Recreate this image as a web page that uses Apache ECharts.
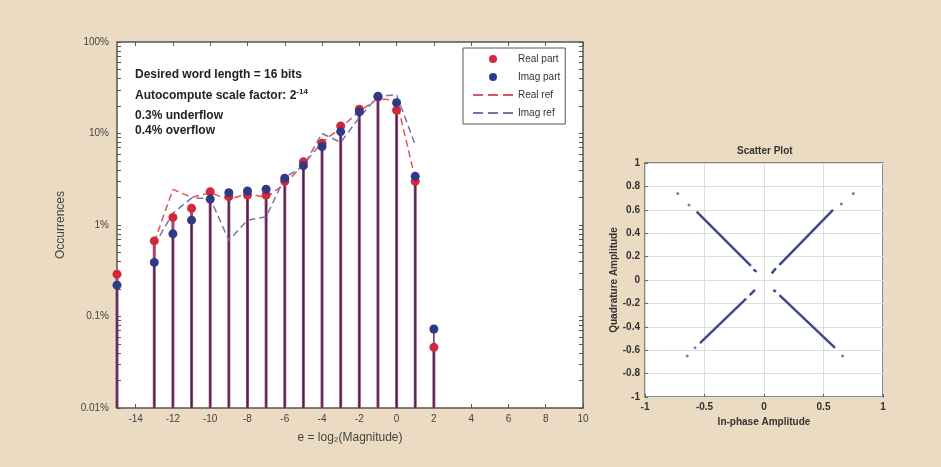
<!DOCTYPE html>
<html>
<head>
<meta charset="utf-8">
<script src="https://cdn.jsdelivr.net/npm/echarts@6/dist/echarts.min.js"></script>
<style>
  html, body { margin: 0; padding: 0; background: #eadbc2; }
  #chart { width: 941px; height: 467px; }
</style>
</head>
<body>
<div id="chart"></div>
<script>
// exponent bins (x) and percent of occurrences
const exps = [-15, -13, -12, -11, -10, -9, -8, -7, -6, -5, -4, -3, -2, -1, 0, 1, 2]
const realPart = [0.29, 0.67, 1.21, 1.52, 2.31, 2.04, 2.13, 2.13, 3.0, 4.9, 7.8, 12.1, 18.4, 25, 18, 3.0, 0.046]
const imagPart = [0.22, 0.39, 0.8, 1.13, 1.92, 2.25, 2.35, 2.46, 3.24, 4.45, 7.2, 10.5, 17.3, 25.5, 21.7, 3.4, 0.073]

// reference curves
const refExps = [-13, -12, -11, -10, -9, -8, -7, -6, -5, -4, -3, -2, -1, 0, 1]
const realRef = [0.65, 2.45, 2.0, 2.25, 1.9, 2.2, 2.0, 2.8, 4.6, 8.0, 11.5, 17.5, 24, 23, 3.2]
const imagRef = [0.6, 1.35, 1.97, 1.95, 0.68, 1.13, 1.23, 3.3, 4.4, 10, 8.0, 15, 25.5, 26.5, 7.5]

// axis ticks
const xTicks = [-14, -12, -10, -8, -6, -4, -2, 0, 2, 4, 6, 8, 10]
const yDecades = [0.01, 0.1, 1, 10, 100]
const yMinorSteps = [1, 2, 3, 4, 5, 6, 7, 8, 9]

// scatter plot: dense arms (start/end of each run) and stray points
const armUpLeft = [[-0.566, 0.584], [-0.11, 0.12], null, [-0.09, 0.09], [-0.061, 0.071]]
const armUpRight = [[0.065, 0.057], [0.1, 0.1], null, [0.13, 0.13], [0.58, 0.6]]
const armLowLeft = [[-0.076, -0.085], [-0.12, -0.13], null, [-0.15, -0.16], [-0.538, -0.54]]
const armLowRight = [[0.078, -0.085], [0.1, -0.1], null, [0.13, -0.13], [0.597, -0.58]]
const strayPoints = [[-0.725, 0.74], [-0.63, 0.64], [0.75, 0.74], [0.65, 0.65],
  [-0.58, -0.58], [-0.645, -0.65], [0.66, -0.65]]

const yTicks = []
yDecades.slice(0, 4).forEach(d => yMinorSteps.forEach(m => yTicks.push(+(d * m).toPrecision(3))))
yTicks.push(100)

const FONT = 'Liberation Sans'
const DASH_ICON = 'path://M0,0h10v2h-10z M15,0h10v2h-10z M30,0h10v2h-10z'

function stem(color, width) {
  return function (params, api) {
    const x = api.value(0)
    const top = api.coord([x, api.value(1)])
    const bot = api.coord([x, 0.01])
    return {
      type: 'line',
      shape: {x1: top[0], y1: top[1], x2: bot[0], y2: bot[1]},
      style: {stroke: color, lineWidth: width}
    }
  }
}

const zip = (xs, ys) => xs.map((x, i) => [x, ys[i]])
const noLine = {show: false, onZero: false}

const option = {
  backgroundColor: '#eadbc2',
  animation: false,
  textStyle: {fontFamily: FONT},
  grid: [
    {left: 117, top: 42, width: 466, height: 366, show: true, backgroundColor: '#fff', borderColor: '#555', borderWidth: 1.5},
    {left: 645, top: 163, width: 238, height: 234, show: true, backgroundColor: '#fff', borderColor: '#666', borderWidth: 1.5}
  ],
  legend: {
    left: 463, top: 48, orient: 'vertical',
    backgroundColor: '#fff', borderColor: '#555', borderWidth: 1,
    padding: [6, 5, 6, 10], itemGap: 8, itemWidth: 40, itemHeight: 8,
    textStyle: {fontFamily: FONT, fontSize: 10, color: '#333'},
    data: [
      {name: 'Real part', icon: 'circle'},
      {name: 'Imag part', icon: 'circle'},
      {name: 'Real ref', icon: DASH_ICON},
      {name: 'Imag ref', icon: DASH_ICON}
    ]
  },
  xAxis: [
    {
      type: 'value', gridIndex: 0, min: -15, max: 10,
      name: 'e = log\u2082(Magnitude)', nameLocation: 'middle', nameGap: 24,
      nameTextStyle: {fontFamily: FONT, fontSize: 12, color: '#444'},
      axisLine: noLine, splitLine: {show: false},
      axisTick: {inside: true, length: 4, customValues: xTicks, lineStyle: {color: '#555'}},
      axisLabel: {customValues: xTicks, fontSize: 10, color: '#444', margin: 6}
    },
    {
      type: 'value', gridIndex: 0, position: 'top', min: -15, max: 10,
      axisLine: noLine, splitLine: {show: false}, axisLabel: {show: false},
      axisTick: {inside: true, length: 4, customValues: xTicks, lineStyle: {color: '#555'}}
    },
    {
      type: 'value', gridIndex: 1, min: -1, max: 1, interval: 0.5,
      name: 'In-phase Amplitude', nameLocation: 'middle', nameGap: 17,
      nameTextStyle: {fontFamily: FONT, fontSize: 10, fontWeight: 'bold', color: '#333'},
      axisLine: noLine,
      splitLine: {show: true, lineStyle: {color: '#dcdcdc', width: 1}},
      axisTick: {inside: true, length: 3, lineStyle: {color: '#666'}},
      axisLabel: {fontSize: 10, fontWeight: 'bold', color: '#333', margin: 5}
    }
  ],
  yAxis: [
    {
      type: 'log', gridIndex: 0, min: 0.01, max: 100, logBase: 10,
      name: 'Occurrences', nameLocation: 'middle', nameGap: 50,
      nameTextStyle: {fontFamily: FONT, fontSize: 12, color: '#444'},
      axisLine: noLine, splitLine: {show: false},
      axisTick: {inside: true, length: 4, customValues: yTicks, lineStyle: {color: '#555'}},
      axisLabel: {customValues: yDecades, fontSize: 10, color: '#444', margin: 8, formatter: v => v + '%'}
    },
    {
      type: 'log', gridIndex: 0, position: 'right', min: 0.01, max: 100, logBase: 10,
      axisLine: noLine, splitLine: {show: false}, axisLabel: {show: false},
      axisTick: {inside: true, length: 4, customValues: yTicks, lineStyle: {color: '#555'}}
    },
    {
      type: 'value', gridIndex: 1, min: -1, max: 1, interval: 0.2,
      name: 'Quadrature Amplitude', nameLocation: 'middle', nameGap: 26,
      nameTextStyle: {fontFamily: FONT, fontSize: 10, fontWeight: 'bold', color: '#333'},
      axisLine: noLine,
      splitLine: {show: true, lineStyle: {color: '#dcdcdc', width: 1}},
      axisTick: {inside: true, length: 3, lineStyle: {color: '#666'}},
      axisLabel: {fontSize: 10, fontWeight: 'bold', color: '#333', margin: 5,
        formatter: v => +v.toFixed(1) + ''}
    }
  ],
  graphic: [
    {type: 'text', left: 135, top: 69, style: {text: 'Desired word length = 16 bits', font: 'bold 12px "Liberation Sans"', fill: '#222'}},
    {type: 'text', left: 135, top: 88, style: {
      text: 'Autocompute scale factor: 2{s|-14}', font: 'bold 12px "Liberation Sans"', fill: '#222',
      rich: {s: {fontSize: 8, fontWeight: 'bold', fontFamily: FONT, verticalAlign: 'top', padding: [0, 0, 8, 0], fill: '#222'}}
    }},
    {type: 'text', left: 135, top: 110, style: {text: '0.3% underflow', font: 'bold 12px "Liberation Sans"', fill: '#222'}},
    {type: 'text', left: 135, top: 125, style: {text: '0.4% overflow', font: 'bold 12px "Liberation Sans"', fill: '#222'}},
    {type: 'text', left: 737, top: 146, style: {text: 'Scatter Plot', font: 'bold 10px "Liberation Sans"', fill: '#333'}}
  ],
  series: [
    {type: 'custom', name: 'realStem', xAxisIndex: 0, yAxisIndex: 0, renderItem: stem('#a8456a', 3), data: zip(exps, realPart), z: 2},
    {type: 'custom', name: 'imagStem', xAxisIndex: 0, yAxisIndex: 0, renderItem: stem('#3c2a5c', 1.4), data: zip(exps, imagPart), z: 3},
    {
      type: 'line', name: 'Real ref', xAxisIndex: 0, yAxisIndex: 0, data: zip(refExps, realRef),
      symbol: 'none', z: 4, lineStyle: {color: '#e05262', width: 1.5, type: [7, 4]}, itemStyle: {color: '#e05262'}
    },
    {
      type: 'line', name: 'Imag ref', xAxisIndex: 0, yAxisIndex: 0, data: zip(refExps, imagRef),
      symbol: 'none', z: 4, lineStyle: {color: '#7276a8', width: 1.5, type: [7, 4]}, itemStyle: {color: '#7276a8'}
    },
    {
      type: 'scatter', name: 'Real part', xAxisIndex: 0, yAxisIndex: 0, data: zip(exps, realPart),
      symbol: 'circle', symbolSize: 9, z: 5, itemStyle: {color: '#d4283a', opacity: 1}
    },
    {
      type: 'scatter', name: 'Imag part', xAxisIndex: 0, yAxisIndex: 0, data: zip(exps, imagPart),
      symbol: 'circle', symbolSize: 9, z: 6, itemStyle: {color: '#2e3a88', opacity: 1}
    },
    ...[armUpLeft, armUpRight, armLowLeft, armLowRight].map(arm => ({
      type: 'line', xAxisIndex: 2, yAxisIndex: 2, data: arm, symbol: 'none', connectNulls: false,
      lineStyle: {color: '#3d4a8c', width: 2.5}, z: 4
    })),
    {
      type: 'scatter', xAxisIndex: 2, yAxisIndex: 2, data: strayPoints,
      symbolSize: 3, itemStyle: {color: '#55608f'}, z: 4
    }
  ]
}

const chart = echarts.init(document.getElementById('chart'))
chart.setOption(option)
</script>
</body>
</html>
